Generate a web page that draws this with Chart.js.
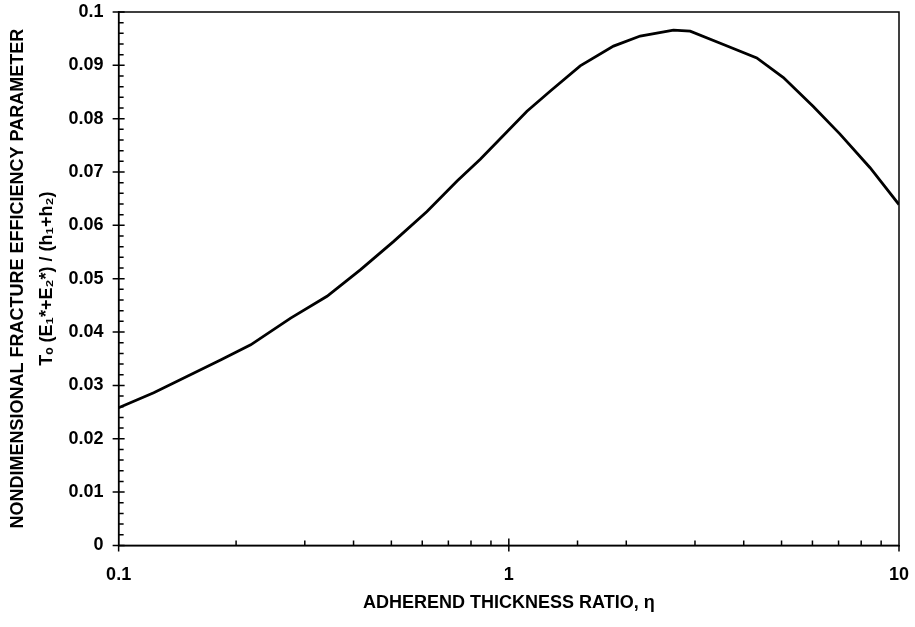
<!DOCTYPE html>
<html>
<head>
<meta charset="utf-8">
<script src="https://cdn.jsdelivr.net/npm/chart.js@4.4.1/dist/chart.umd.min.js"></script>
<style>
  body { margin: 0; background: #fff; }
  #wrap { width: 915px; height: 627px; }
</style>
</head>
<body>
<div id="wrap"><canvas id="chart"></canvas></div>
<script>
// adherend thickness ratio (eta) and fracture efficiency parameter
const etaValues = [0.1, 0.123, 0.156, 0.183, 0.218, 0.276, 0.342, 0.417, 0.507, 0.617, 0.737, 0.845,
                   1.113, 1.278, 1.524, 1.855, 2.171, 2.642, 2.916, 3.548, 4.32, 5.055, 6.03, 7.06, 8.43, 10];
const efficiency = [0.0258, 0.0286, 0.0323, 0.0348, 0.0376, 0.0426, 0.0467, 0.0517, 0.0570, 0.0626, 0.0683, 0.0724,
                    0.0814, 0.0852, 0.0899, 0.0936, 0.0955, 0.0966, 0.0964, 0.0939, 0.0914, 0.0877, 0.0823, 0.0771, 0.0708, 0.0639];
const xLabels = [0.1, 1, 10];
const yMajor = 0.01;

const family = '"Liberation Sans", Arial, sans-serif';
const tickFont = { family: family, weight: 'bold', size: 18, lineHeight: 1 };
const titleFont = { family: family, weight: 'bold', size: 18 };

function isMajorY(v) {
    return Math.abs(v / yMajor - Math.round(v / yMajor)) < 1e-6;
}
function isMajorX(v) {
    return xLabels.some(l => Math.abs(v - l) < 1e-9);
}

// frame, major ticks crossing the axes, minor ticks inside only
const frameTicks = {
    id: 'frameTicks',
    afterDraw(chart) {
        const ctx = chart.ctx;
        const a = chart.chartArea;
        const xs = chart.scales.x, ys = chart.scales.y;
        ctx.save();
        ctx.strokeStyle = '#000';
        ctx.lineWidth = 1.5;
        ctx.strokeRect(a.left, a.top, a.right - a.left, a.bottom - a.top);
        ctx.beginPath();
        ys.ticks.forEach(t => {
            const y = ys.getPixelForValue(t.value);
            if (isMajorY(t.value)) {
                ctx.moveTo(a.left - 6, y);
                ctx.lineTo(a.left + 6, y);
            } else {
                ctx.moveTo(a.left, y);
                ctx.lineTo(a.left + 5, y);
            }
        });
        xs.ticks.forEach(t => {
            const x = xs.getPixelForValue(t.value);
            if (isMajorX(t.value)) {
                ctx.moveTo(x, a.bottom + 6);
                ctx.lineTo(x, t.value > xs.min && t.value < xs.max ? a.bottom - 7 : a.bottom);
            } else {
                ctx.moveTo(x, a.bottom);
                ctx.lineTo(x, a.bottom - 5);
            }
        });
        ctx.stroke();
        ctx.restore();
    }
};

new Chart(document.getElementById('chart'), {
    type: 'line',
    data: {
        datasets: [{
            data: etaValues.map((e, i) => ({ x: e, y: efficiency[i] })),
            borderColor: '#000',
            borderWidth: 2.8,
            pointRadius: 0,
            tension: 0,
            fill: false
        }]
    },
    options: {
        responsive: true,
        maintainAspectRatio: false,
        animation: false,
        layout: { padding: { top: 0, right: 16, bottom: 13, left: 4 } },
        plugins: { legend: { display: false }, tooltip: { enabled: false } },
        scales: {
            x: {
                type: 'logarithmic',
                min: 0.1,
                max: 10,
                border: { display: true, color: '#000', width: 1.5 },
                grid: {
                    drawOnChartArea: false,
                    tickLength: 20,
                    tickColor: 'rgba(0,0,0,0)'
                },
                ticks: {
                    color: '#000',
                    font: tickFont,
                    padding: 1,
                    autoSkip: false,
                    maxRotation: 0,
                    callback: v => isMajorX(v) ? String(v) : ''
                },
                title: {
                    display: true,
                    text: 'ADHEREND THICKNESS RATIO, η',
                    color: '#000',
                    font: titleFont,
                    padding: { top: 7, bottom: 0 }
                }
            },
            y: {
                min: 0,
                max: 0.1,
                border: { display: true, color: '#000', width: 1.5 },
                grid: {
                    drawOnChartArea: false,
                    tickLength: 12,
                    tickColor: 'rgba(0,0,0,0)'
                },
                ticks: {
                    stepSize: 0.002,
                    autoSkip: false,
                    color: '#000',
                    font: tickFont,
                    padding: 3,
                    callback: v => isMajorY(v) ? String(Math.round(v * 100) / 100) : ''
                },
                title: {
                    display: true,
                    text: ['NONDIMENSIONAL FRACTURE EFFICIENCY PARAMETER', 'Tₒ (E₁*+E₂*) / (h₁+h₂)'],
                    color: '#000',
                    font: { family: family, weight: 'bold', size: 18, lineHeight: 1.6 },
                    padding: { top: 0, bottom: 4 }
                }
            }
        }
    },
    plugins: [frameTicks]
});
</script>
</body>
</html>
